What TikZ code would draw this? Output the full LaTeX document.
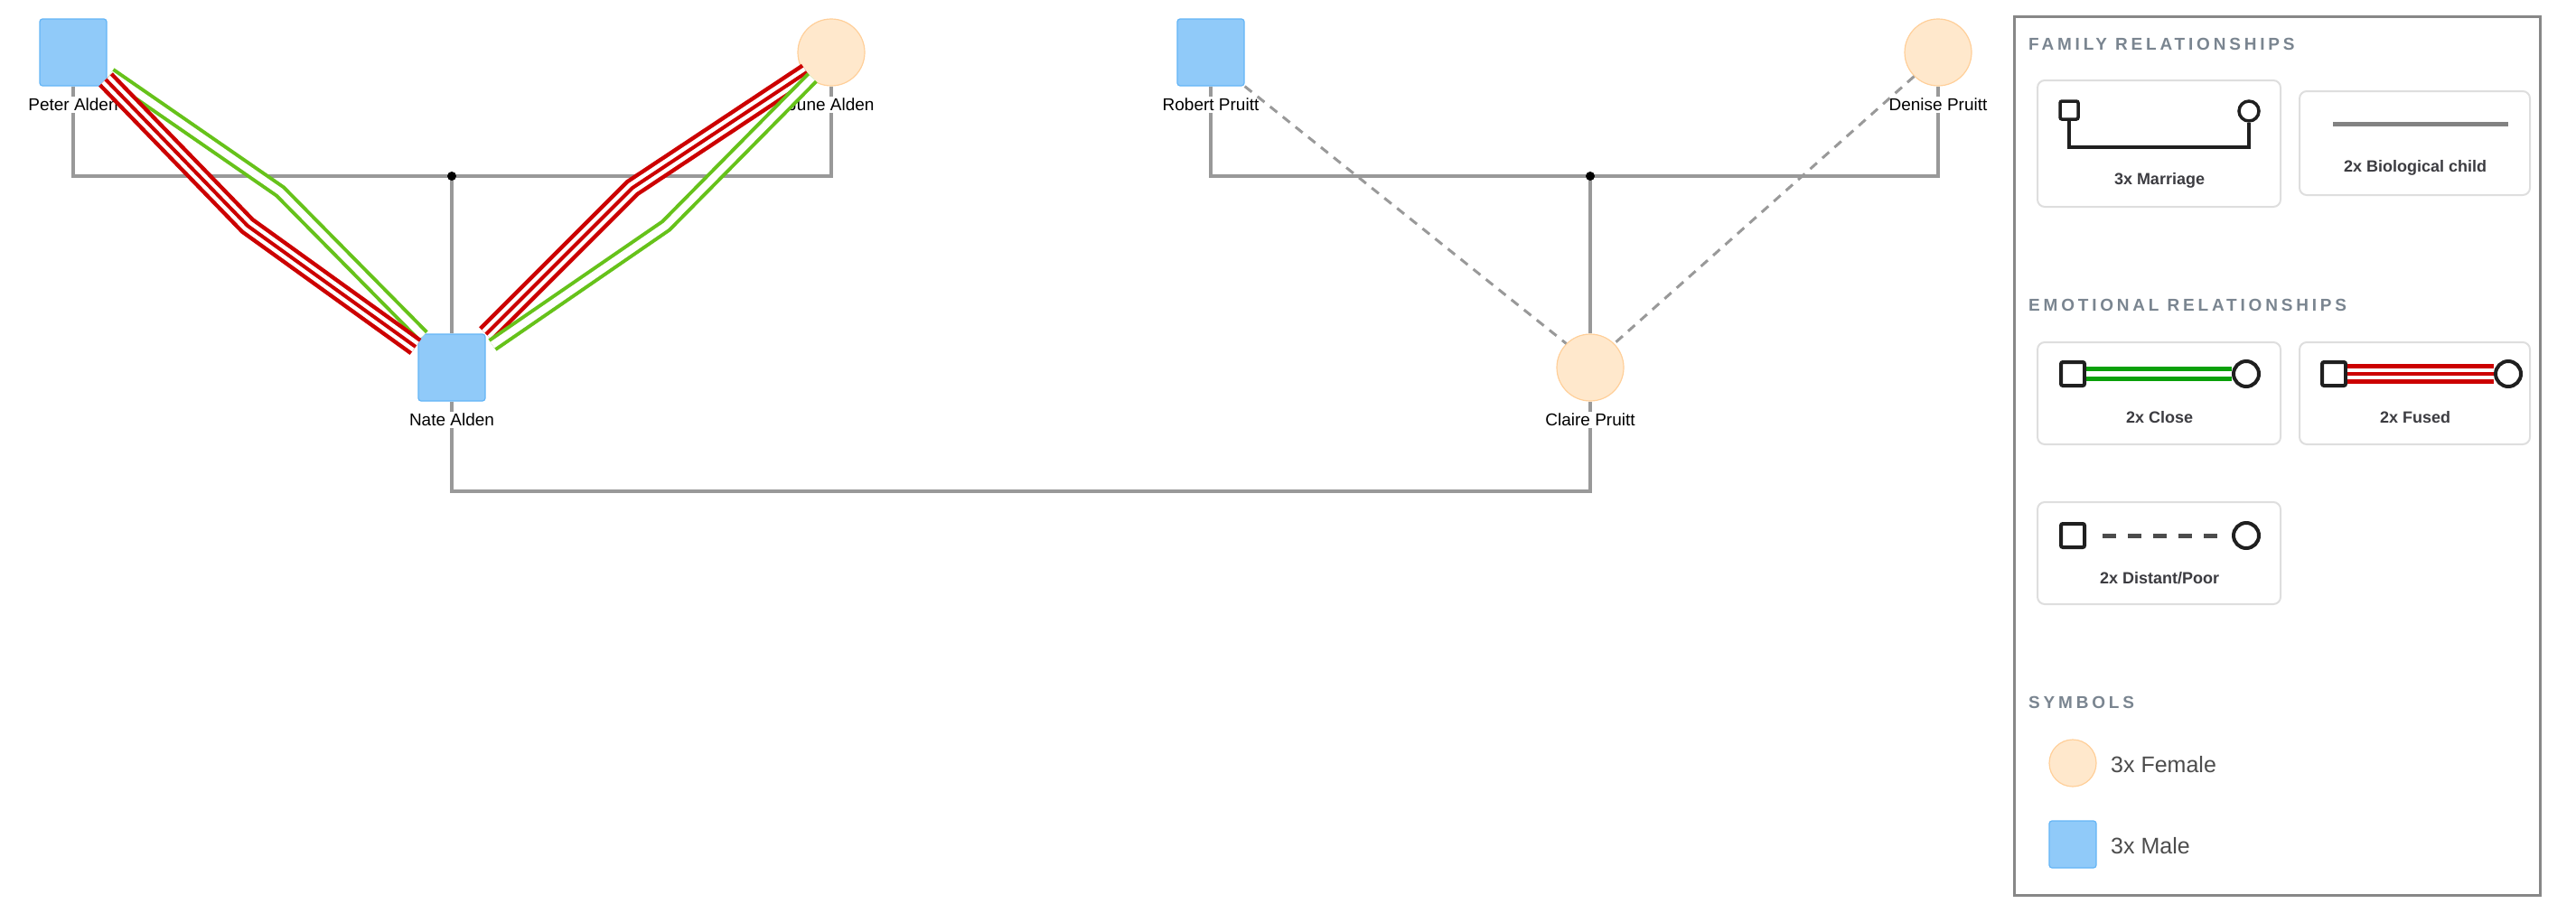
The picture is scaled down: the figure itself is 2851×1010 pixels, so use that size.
\documentclass[tikz,border=0pt]{standalone}
\usepackage{fontspec}
\setmainfont{Liberation Sans}
\usetikzlibrary{calc}
\definecolor{maleblue}{HTML}{90CAF9}
\definecolor{maleedge}{HTML}{64B5F6}
\definecolor{femfill}{HTML}{FFE8CC}
\definecolor{femedge}{HTML}{FFCF99}
\definecolor{famgray}{HTML}{999999}
\definecolor{closegreen}{HTML}{66C21A}
\definecolor{legendgreen}{HTML}{0AA00A}
\definecolor{fusedred}{HTML}{CC0000}
\definecolor{titlegray}{HTML}{7A8590}
\definecolor{cardtext}{HTML}{3C3C41}
\begin{document}
\begin{tikzpicture}[x=1pt,y=-1pt]
                \tikzstyle{every node}+=[inner sep=0pt,font=\fontsize{19}{22}\selectfont]
                \tikzstyle{male}=[draw=maleedge,fill=maleblue,line width=1.2pt,rounded corners=3pt,minimum size=74pt]
                \tikzstyle{female}=[circle,draw=femedge,fill=femfill,line width=1.2pt,minimum size=74pt]
                \tikzstyle{plabel}=[fill=white,inner sep=2pt]
                \tikzstyle{family}=[famgray,line width=3.5pt]
                \tikzstyle{closeline}=[closegreen,line width=4pt,double=white,double distance=8pt]
                \tikzstyle{fusedline}=[line width=4pt,preaction={draw=fusedred,line width=22pt},preaction={draw=white,line width=13pt},fusedred]
                \tikzstyle{distantline}=[famgray,line width=3pt,dash pattern=on 10pt off 8pt]
                \tikzstyle{card}=[draw=black!13,line width=2pt,rounded corners=8pt]
                \tikzstyle{cardlabel}=[text=cardtext,font=\fontsize{18}{22}\selectfont\bfseries]
                \tikzstyle{heading}=[anchor=west,text=titlegray,font=\fontsize{19}{22}\selectfont\bfseries\addfontfeature{LetterSpace=20}]
                \tikzstyle{lsq}=[draw=black!88,line width=4pt,rounded corners=2pt,minimum size=26pt]
                \tikzstyle{lci}=[circle,draw=black!88,line width=4pt,minimum size=28pt,fill=white]
                \useasboundingbox (0,0) rectangle (2851,1010);
                % persons
                \node [male] (peter) at (81,58) {};
                \node [female] (june) at (920,58) {};
                \node [male] (nate) at (500,407) {};
                \node [male] (robert) at (1340,58) {};
                \node [female] (denise) at (2145,58) {};
                \node [female] (claire) at (1760,407) {};
                \coordinate (aldenmid) at (500,195);
                \coordinate (pruittmid) at (1760,195);
                % family lines
                \draw [family] (peter.south) |- (aldenmid) -| (june.south);
                \draw [family] (aldenmid) -- (nate.north);
                \draw [family] (robert.south) |- (pruittmid) -| (denise.south);
                \draw [family] (pruittmid) -- (claire.north);
                \draw [family] (nate.south) |- (1130,544) -| (claire.south);
                \fill (aldenmid) circle (5);
                \fill (pruittmid) circle (5);
                \node [plabel] (peterlbl) at (81,116) {Peter Alden};
                \node [plabel] (junelbl) at (920,116) {June Alden};
                \node [plabel] (natelbl) at (500,465) {Nate Alden};
                \node [plabel] (robertlbl) at (1340,116) {Robert Pruitt};
                \node [plabel] (deniselbl) at (2145,116) {Denise Pruitt};
                \node [plabel] (clairelbl) at (1760,465) {Claire Pruitt};
                % emotional lines
                \coordinate (pnclose) at (310,212);
                \coordinate (pnfused) at (274,250);
                \coordinate (jnfused) at (700,208);
                \coordinate (jnclose) at (737,250);
                \draw [closeline] (122,82) -- (pnclose) -- (468,372);
                \draw [fusedline] (117,88) -- (pnfused) -- (460,384);
                \draw [fusedline] (893,80) -- (jnfused) -- (538,370);
                \draw [closeline] (899,86) -- (jnclose) -- (545,382);
                \draw [distantline] (robert.south east) -- (claire.135);
                \draw [distantline] (denise.225) -- (claire.45);
                % legend
                \draw [black!47,line width=3pt] (2229,18) rectangle (2811,991);
                \node [heading] (famtitle) at (2245,49) {FAMILY RELATIONSHIPS};
                \draw [card] (2255,89) rectangle (2524,229);
                \draw [card] (2545,101) rectangle (2800,216);
                \node [lsq,minimum size=20pt,line width=3.5pt] (marsq) at (2290,122) {};
                \node [lci,minimum size=22pt,line width=3.5pt] (marci) at (2489,123) {};
                \draw [black!88,line width=3.5pt] (marsq.south) |- (2390,163) -| (marci.south);
                \node [cardlabel] (marlbl) at (2390,200) {3x Marriage};
                \coordinate (bioa) at (2582,137);
                \coordinate (biob) at (2776,137);
                \draw [famgray!85!black,line width=5pt] (bioa) -- (biob);
                \node [cardlabel] (biolbl) at (2673,186) {2x Biological child};
                \node [heading] (emotitle) at (2245,338) {EMOTIONAL RELATIONSHIPS};
                \draw [card] (2255,379) rectangle (2524,492);
                \draw [card] (2545,379) rectangle (2800,492);
                \draw [card] (2255,556) rectangle (2524,669);
                \node [lsq] (closesq) at (2294,414) {};
                \node [lci] (closeci) at (2486,414) {};
                \draw [legendgreen,line width=5pt,double=white,double distance=6pt] (closesq.east) -- (closeci.west);
                \node [cardlabel] (closelbl) at (2390,462) {2x Close};
                \node [lsq] (fusedsq) at (2583,414) {};
                \node [lci] (fusedci) at (2776,414) {};
                \draw [fusedred,line width=4pt,preaction={draw=fusedred,line width=22pt},preaction={draw=white,line width=12pt}] (fusedsq.east) -- (fusedci.west);
                \node [cardlabel] (fusedlbl) at (2673,462) {2x Fused};
                \node [lsq] (distsq) at (2294,593) {};
                \node [lci] (distci) at (2486,593) {};
                \draw [black!70,line width=5pt,dash pattern=on 15pt off 13pt] (2327,593) -- (2460,593);
                \node [cardlabel] (distlbl) at (2390,640) {2x Distant/Poor};
                \node [heading] (symtitle) at (2245,778) {SYMBOLS};
                \node [female,minimum size=52pt] (femsym) at (2294,845) {};
                \node [anchor=west,text=black!70,font=\fontsize{25}{30}\selectfont] (femlbl) at (2336,847) {3x Female};
                \node [male,minimum size=52pt] (malesym) at (2294,935) {};
                \node [anchor=west,text=black!70,font=\fontsize{25}{30}\selectfont] (malelbl) at (2336,937) {3x Male};
              \end{tikzpicture}
\end{document}
